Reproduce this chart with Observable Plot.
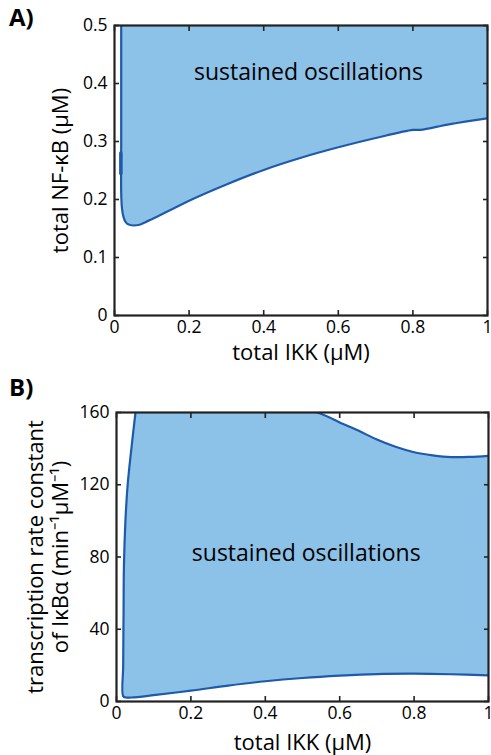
<!DOCTYPE html>
<html>
<head>
<meta charset="utf-8">
<script src="https://cdn.jsdelivr.net/npm/d3@7"></script>
<script src="https://cdn.jsdelivr.net/npm/@observablehq/plot@0.6"></script>
<style>
  body { margin: 0; background: #fff; font-family: "Open Sans", sans-serif; }
  #wrap { position: relative; width: 491px; height: 755px; }
  .panel-tag { position: absolute; font: bold 24px "Open Sans", sans-serif; color: #000; }
  svg { display: block; }
</style>
</head>
<body>
<div id="wrap">
  <div class="panel-tag" style="left:9px;top:0px;">A)</div>
  <div class="panel-tag" style="left:9px;top:370px;">B)</div>
  <div id="charts"></div>
</div>
<script>
// ---------- data ----------
const ikkTicks = [0, 0.2, 0.4, 0.6, 0.8, 1];
const nfkbTicks = [0, 0.1, 0.2, 0.3, 0.4, 0.5];
const rateTicks = [0, 40, 80, 120, 160];
const domainIKK = [0, 1];
const domainNFkB = [0, 0.5];
const domainRate = [0, 160];
const xTitle = "total IKK (μM)";
const yTitleA = "total NF-κB (μM)";
const yTitleB = "transcription rate constant\nof IκBα (min⁻¹μM⁻¹)";

// Panel A: boundary of the oscillatory region (total IKK, total NF-kB)
const boundaryA = [
  {x: 0.018, y: 0.5}, {x: 0.018, y: 0.3}, {x: 0.018, y: 0.21}, {x: 0.02, y: 0.185},
  {x: 0.024, y: 0.17}, {x: 0.03, y: 0.161}, {x: 0.038, y: 0.157}, {x: 0.064, y: 0.156},
  {x: 0.08, y: 0.16}, {x: 0.1, y: 0.166}, {x: 0.15, y: 0.182}, {x: 0.2, y: 0.198},
  {x: 0.3, y: 0.226}, {x: 0.4, y: 0.251}, {x: 0.5, y: 0.272}, {x: 0.6, y: 0.29},
  {x: 0.7, y: 0.306}, {x: 0.8, y: 0.32}, {x: 0.82, y: 0.32}, {x: 0.9, y: 0.33}, {x: 1.0, y: 0.34}
];
const blipA = [{x: 0.017, y: 0.245}, {x: 0.017, y: 0.28}];
const labelA = [{x: 0.52, y: 0.418, text: "sustained oscillations"}];

// Panel B: boundaries (total IKK, transcription rate constant)
const leftB = [
  {x: 0.018, y: 3}, {x: 0.018, y: 20}, {x: 0.019, y: 50}, {x: 0.02, y: 75},
  {x: 0.024, y: 100}, {x: 0.03, y: 120}, {x: 0.04, y: 140}, {x: 0.051, y: 160}
];
const lowerB = [
  {x: 0.018, y: 3}, {x: 0.025, y: 2.2}, {x: 0.04, y: 2.2}, {x: 0.1, y: 3.5},
  {x: 0.2, y: 6}, {x: 0.3, y: 8.8}, {x: 0.4, y: 11.2}, {x: 0.5, y: 13},
  {x: 0.6, y: 14.3}, {x: 0.7, y: 15.2}, {x: 0.8, y: 15.4}, {x: 0.9, y: 15.1}, {x: 1.0, y: 14.5}
];
const upperB = [
  {x: 0.54, y: 160}, {x: 0.57, y: 157.5}, {x: 0.6, y: 154.5}, {x: 0.65, y: 150},
  {x: 0.7, y: 145}, {x: 0.75, y: 141}, {x: 0.8, y: 138}, {x: 0.85, y: 136.3},
  {x: 0.9, y: 135.3}, {x: 0.95, y: 135.4}, {x: 1.0, y: 136}
];
const labelB = [{x: 0.51, y: 82, text: "sustained oscillations"}];

// ---------- styles ----------
const FILL = "#8dc2e8";
const STROKE = "#1e5aab";
const FONT = "'Open Sans', sans-serif";
const TICK_FS = 17.5, LABEL_FS = 22, NOTE_FS = 23;
const fmt = d => String(d);
const blank = () => "";

function axes(yTicks, xTitleDy, yTitle, yTitleDx) {
  return [
    Plot.axisX(ikkTicks, {anchor: "bottom", tickSize: 0, tickPadding: 5, fontSize: TICK_FS, tickFormat: fmt, label: null}),
    Plot.axisY(yTicks, {anchor: "left", tickSize: 0, tickPadding: 7, fontSize: TICK_FS, tickFormat: fmt, label: null}),
    Plot.text([xTitle], {frameAnchor: "bottom", dy: xTitleDy, textAnchor: "middle", lineAnchor: "middle", fontSize: LABEL_FS, fill: "#000"}),
    Plot.text([yTitle], {frameAnchor: "left", dx: yTitleDx, rotate: -90, textAnchor: "middle", lineAnchor: "middle", lineHeight: 1.15, fontSize: LABEL_FS, fill: "#000"}),
    Plot.axisX(ikkTicks, {anchor: "bottom", tickSize: -5, tickFormat: blank, label: null, strokeWidth: 1.6, stroke: "#222"}),
    Plot.axisX(ikkTicks, {anchor: "top", tickSize: -5, tickFormat: blank, label: null, strokeWidth: 1.6, stroke: "#222"}),
    Plot.axisY(yTicks, {anchor: "left", tickSize: -5, tickFormat: blank, label: null, strokeWidth: 1.6, stroke: "#222"}),
    Plot.axisY(yTicks, {anchor: "right", tickSize: -5, tickFormat: blank, label: null, strokeWidth: 1.6, stroke: "#222"}),
    Plot.frame({stroke: "#222", strokeWidth: 2.2})
  ];
}

const yTopA = domainNFkB[1];
const chartA = Plot.plot({
  width: 491, height: 370,
  marginTop: 25, marginBottom: 55, marginLeft: 114, marginRight: 4,
  style: {fontFamily: FONT, fontSize: "15px", color: "#000", background: "transparent"},
  x: {domain: domainIKK},
  y: {domain: domainNFkB},
  marks: [
    Plot.areaY(boundaryA, {x: "x", y1: "y", y2: yTopA, fill: FILL, clip: true}),
    Plot.line(boundaryA, {x: "x", y: "y", stroke: STROKE, strokeWidth: 2.2, curve: "catmull-rom", clip: true}),
    Plot.line(blipA, {x: "x", y: "y", stroke: STROKE, strokeWidth: 3.5}),
    Plot.text(labelA, {x: "x", y: "y", text: "text", fontSize: NOTE_FS, fill: "#000"}),
    ...axes(nfkbTicks, 37, yTitleA, -55)
  ]
});

const polyB = [...leftB, ...upperB, ...lowerB.slice().reverse()];
const outlineB = [...leftB.slice().reverse(), ...lowerB.slice(1)];
const chartB = Plot.plot({
  width: 491, height: 385,
  marginTop: 42, marginBottom: 54, marginLeft: 116, marginRight: 3,
  style: {fontFamily: FONT, fontSize: "15px", color: "#000", background: "transparent"},
  x: {domain: domainIKK},
  y: {domain: domainRate},
  marks: [
    Plot.line(polyB, {x: "x", y: "y", fill: FILL, stroke: "none", clip: true}),
    Plot.line(outlineB, {x: "x", y: "y", stroke: STROKE, strokeWidth: 2.2, curve: "catmull-rom", clip: true}),
    Plot.line(upperB, {x: "x", y: "y", stroke: STROKE, strokeWidth: 2.2, curve: "catmull-rom", clip: true}),
    Plot.text(labelB, {x: "x", y: "y", text: "text", fontSize: NOTE_FS, fill: "#000"}),
    ...axes(rateTicks, 41, yTitleB, -69)
  ]
});

const holder = document.getElementById("charts");
holder.appendChild(chartA);
holder.appendChild(chartB);
</script>
</body>
</html>
